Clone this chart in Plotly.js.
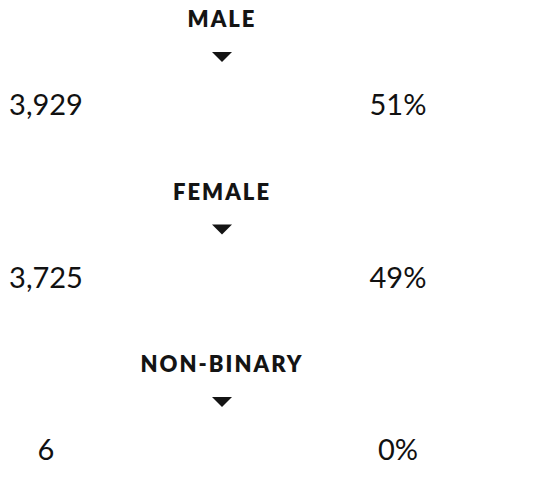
<!DOCTYPE html>
<html><head><meta charset="utf-8">
<script src="https://cdn.plot.ly/plotly-3.0.1.min.js"></script>
<style>html,body{margin:0;padding:0;background:#fff}#chart{width:555px;height:497px}</style>
</head><body><div id="chart"></div>
<script>
// Data
const categories = ["MALE", "FEMALE", "NON-BINARY"];
const counts = [3929, 3725, 6];
const percents = [51, 49, 0];

// Layout helpers (pixel-like coordinate space)
const W = 555, H = 497;
const rowStep = 172.5;
const labelDy = 21.5, triDy = 57, numDy = 108;
const labelX = 222;
const countX = 46, pctX = 398;

const rowY = categories.map((c, i) => i * rowStep);
const fmt = n => n.toLocaleString('en-US');

const traces = [
  {
    x: categories.map(() => labelX), y: rowY.map(y => y + labelDy),
    text: categories, mode: 'text', type: 'scatter',
    textposition: 'middle center',
    textfont: {family: 'Lato', size: 22, weight: 800, color: '#141414'},
    hoverinfo: 'none', showlegend: false
  },
  {
    x: categories.map(() => countX), y: rowY.map(y => y + numDy),
    text: counts.map(fmt), mode: 'text', type: 'scatter',
    textposition: 'middle center',
    textfont: {family: 'Lato', size: 29, color: '#111'},
    hoverinfo: 'none', showlegend: false
  },
  {
    x: categories.map(() => pctX), y: rowY.map(y => y + numDy),
    text: percents.map(p => p + '%'), mode: 'text', type: 'scatter',
    textposition: 'middle center',
    textfont: {family: 'Lato', size: 29, color: '#111'},
    hoverinfo: 'none', showlegend: false
  }
];

const shapes = categories.map((c, i) => ({
  type: 'path', xref: 'x', yref: 'y',
  xsizemode: 'pixel', ysizemode: 'pixel',
  xanchor: labelX, yanchor: rowY[i] + triDy,
  path: 'M -10 5 L 10 5 L 0 -5 Z',
  fillcolor: '#141414', line: {width: 0}
}));

const layout = {
  width: W, height: H,
  margin: {l: 0, r: 0, t: 0, b: 0},
  paper_bgcolor: '#fff', plot_bgcolor: '#fff',
  xaxis: {range: [0, W], visible: false, fixedrange: true},
  yaxis: {range: [H, 0], visible: false, fixedrange: true},
  shapes: shapes
};

Plotly.newPlot('chart', traces, layout, {staticPlot: true, displayModeBar: false}).then(() => {
  document.querySelectorAll('.scatterlayer .trace:first-child .textpoint text').forEach(t => {
    t.style.letterSpacing = '2px';
  });
});
</script></body></html>
